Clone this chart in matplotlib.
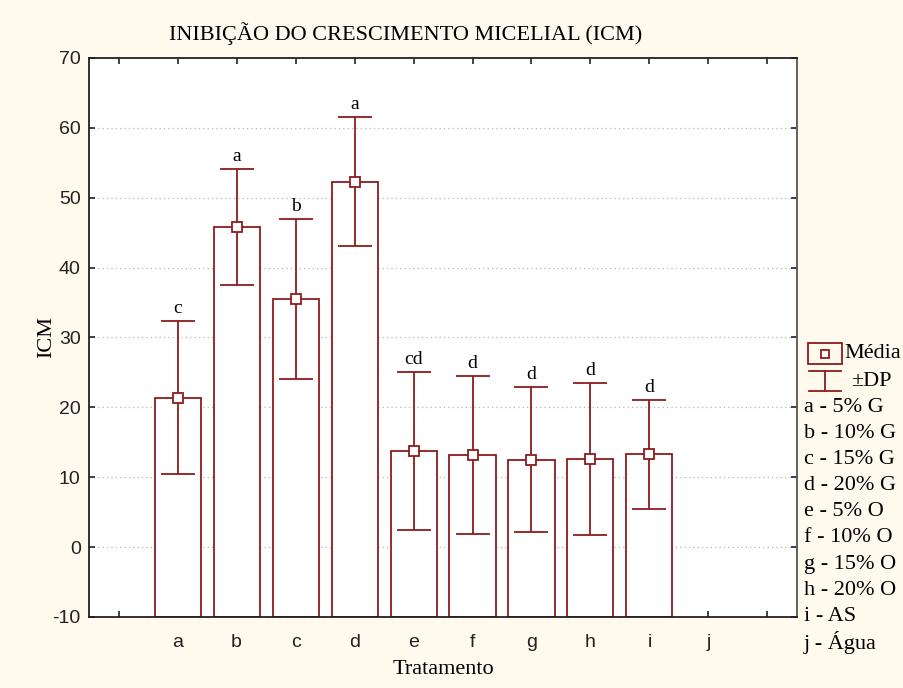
import numpy as np
import matplotlib.pyplot as plt
from matplotlib.lines import Line2D
from matplotlib.patches import Rectangle

plt.rcParams['font.family'] = ['Liberation Serif', 'DejaVu Serif']

# treatment means and standard deviations (ICM, %)
tratamentos = ['a', 'b', 'c', 'd', 'e', 'f', 'g', 'h', 'i', 'j']
media = [21.4, 45.8, 35.5, 52.3, 13.7, 13.2, 12.5, 12.6, 13.3]
dp = [10.9, 8.3, 11.5, 9.2, 11.3, 11.3, 10.4, 10.9, 7.8]
letras = ['c', 'a', 'b', 'a', 'cd', 'd', 'd', 'd', 'd']
legenda = ['a - 5% G', 'b - 10% G', 'c - 15% G', 'd - 20% G', 'e - 5% O',
           'f - 10% O', 'g - 15% O', 'h - 20% O', 'i - AS', 'j - Água']

vermelho = '#8E1B1B'
fundo = '#FFF9EE'
sans = ['Liberation Sans Narrow', 'Liberation Sans', 'DejaVu Sans']

fig = plt.figure(figsize=(9.04, 6.88), dpi=100, facecolor=fundo)
ax = fig.add_axes([0.0985, 0.1032, 0.7831, 0.8125])
ax.set_facecolor('white')

x = np.arange(1, len(media) + 1)
ax.bar(x, [m + 10 for m in media], bottom=-10, width=0.78,
       facecolor='white', edgecolor=vermelho, linewidth=1.3, zorder=2)
err = ax.errorbar(x, media, yerr=dp, fmt='none', ecolor=vermelho,
                  elinewidth=1.3, capsize=12, capthick=1.3, zorder=3)
ax.plot(x, media, 's', ms=7, mfc='white', mec=vermelho, mew=1.3, zorder=4)

for xi, m, s, l in zip(x, media, dp, letras):
    ax.annotate(l, (xi, m + s), xytext=(0, 3), textcoords='offset points',
                ha='center', va='bottom', fontsize=14)

ax.set_xlim(-0.5, 11.5)
ax.set_ylim(-10, 70)
ax.set_xticks(np.arange(0, 12))
ax.set_xticklabels([''] + tratamentos + [''], family=sans, fontsize=14)
ax.set_yticks(np.arange(-10, 71, 10))
ax.set_yticklabels([str(v) for v in range(-10, 71, 10)], family=sans, fontsize=14)
ax.tick_params(direction='in', top=True, right=True, length=4, width=1.2,
               pad=6, colors='#222222', labelcolor='#222222')
ax.tick_params(axis='x', pad=12)
for sp in ax.spines.values():
    sp.set_linewidth(1.3)
    sp.set_color('#222222')
ax.spines['right'].set_color('#555555')

ax.yaxis.grid(True, linestyle=(0, (1, 2.5)), color='#b5b5b5', linewidth=0.9, zorder=0)
ax.set_axisbelow(True)

ax.set_title('INIBIÇÃO DO CRESCIMENTO MICELIAL (ICM)', fontsize=16, pad=13,
             x=(406 - 89) / 708)
ax.set_ylabel('ICM', fontsize=16, labelpad=-3)
ax.set_xlabel('Tratamento', fontsize=16, labelpad=7)


def fx(px):
    return px / 904


def fy(py):
    return 1 - py / 688


# legend for mean and SD
fig.add_artist(Rectangle((fx(808), fy(364)), fx(34), 21 / 688, fill=False,
                         edgecolor=vermelho, linewidth=1.3, transform=fig.transFigure))
fig.add_artist(Line2D([fx(825)], [fy(353.5)], marker='s', ms=6, mfc='white',
                      mec=vermelho, mew=1.3, transform=fig.transFigure))
fig.text(fx(844), fy(353.5), 'Média', fontsize=16, va='center', ha='left')
fig.add_artist(Line2D([fx(825), fx(825)], [fy(371), fy(391)], color=vermelho,
                      lw=1.3, transform=fig.transFigure))
for yy in (371, 391):
    fig.add_artist(Line2D([fx(809), fx(841)], [fy(yy), fy(yy)], color=vermelho,
                          lw=1.3, transform=fig.transFigure))
fig.text(fx(851), fy(381), '±DP', fontsize=16, va='center', ha='left')

for k, txt in enumerate(legenda):
    fig.text(fx(804), fy(407 + k * 26.2), txt, fontsize=16, va='center', ha='left')

fig.savefig('out.png', dpi=100, facecolor=fundo)
